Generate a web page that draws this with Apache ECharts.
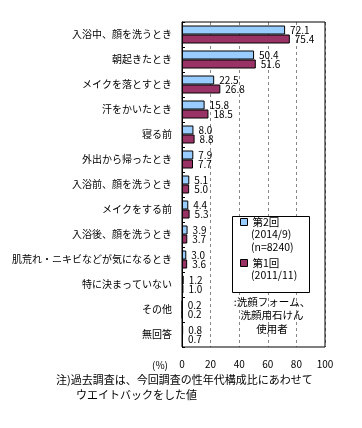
<!DOCTYPE html>
<html><head><meta charset="utf-8">
<script src="https://cdn.jsdelivr.net/npm/echarts@6/dist/echarts.min.js"></script>
<style>html,body{margin:0;padding:0;background:#fff}#c{width:362px;height:428px}</style>
</head><body><div id="c"></div>
<script>
var categories = ['入浴中、顔を洗うとき','朝起きたとき','メイクを落とすとき','汗をかいたとき','寝る前','外出から帰ったとき','入浴前、顔を洗うとき','メイクをする前','入浴後、顔を洗うとき','肌荒れ・ニキビなどが気になるとき','特に決まっていない','その他','無回答'];
var seriesNames = ['第2回','第1回'];
var round2 = [72.1,50.4,22.5,15.8,8.0,7.9,5.1,4.4,3.9,3.0,1.2,0.2,0.8];
var round1 = [75.4,51.6,26.8,18.5,8.8,7.7,5.0,5.3,3.7,3.6,1.0,0.2,0.7];
var legendSub2 = ['(2014/9)','(n=8240)'];
var legendSub1 = ['(2011/11)'];
var noteBox = [':洗顔フォーム、','洗顔用石けん','使用者'];
var footnote = ['注)過去調査は、今回調査の性年代構成比にあわせて','ウエイトバックをした値'];
var unitLabel = '(%)';

var FONT = '"Noto Sans CJK JP", sans-serif';
var chart = echarts.init(document.getElementById('c'));
function lbl(){return {show:true,position:'right',distance:5,color:'#000',fontSize:10,fontFamily:FONT,formatter:function(p){return p.value.toFixed(1);}};}
function leg(name, top){
  return {data:[name],left:240,top:top,padding:0,z:20,orient:'vertical',itemWidth:7,itemHeight:7,icon:'rect',
    itemStyle:{borderColor:'#000',borderWidth:1},textStyle:{fontSize:10.5,fontFamily:FONT,color:'#000',height:14,lineHeight:14}};
}
chart.setOption({
  animation:false,
  backgroundColor:'#fff',
  grid:{left:182,right:37,top:22,bottom:81,show:true,borderColor:'#000',borderWidth:1,backgroundColor:'transparent',z:5},
  xAxis:{type:'value',min:0,max:100,interval:20,
    axisLine:{show:false},axisTick:{show:false},
    axisLabel:{color:'#000',fontSize:10,fontFamily:FONT,margin:12},
    splitLine:{show:true,lineStyle:{color:'#888',type:[3,3],width:1}}},
  yAxis:{type:'category',data:categories,inverse:true,
    axisLine:{show:true,lineStyle:{color:'#000',width:1}},
    axisTick:{show:true,inside:true,length:3,lineStyle:{color:'#000'}},
    axisLabel:{color:'#000',fontSize:10,fontFamily:FONT,margin:10}},
  legend:[leg(seriesNames[0],215), leg(seriesNames[1],256)],
  graphic:[
    {type:'rect',shape:{x:232.5,y:216.5,width:77,height:76},style:{fill:'#fff',stroke:'#000',lineWidth:1},z:10,silent:true},
    {type:'text',left:251,top:228,style:{text:legendSub2.join('\n'),fontSize:10.5,lineHeight:13,fontFamily:FONT,fill:'#000'},z:11},
    {type:'text',left:251,top:269,style:{text:legendSub1.join('\n'),fontSize:10.5,lineHeight:13,fontFamily:FONT,fill:'#000'},z:11},
    {type:'text',x:272,y:295,style:{text:noteBox.join('\n'),fontSize:10.5,lineHeight:13.5,fontFamily:FONT,fill:'#000',align:'center'},z:11},
    {type:'text',x:168,y:365,style:{text:unitLabel,fontSize:10,fontFamily:FONT,fill:'#000',align:'right',verticalAlign:'middle'}},
    {type:'text',left:56,top:374,style:{text:footnote[0],fontSize:11,fontFamily:FONT,fill:'#000'}},
    {type:'text',left:76,top:389,style:{text:footnote[1],fontSize:11,fontFamily:FONT,fill:'#000'}}
  ],
  series:[
    {name:seriesNames[0],type:'bar',data:round2,barGap:'0%',barCategoryGap:'28%',
      itemStyle:{color:'#99ccff',borderColor:'#000',borderWidth:1},label:lbl(),z:3},
    {name:seriesNames[1],type:'bar',data:round1,barGap:'0%',barCategoryGap:'28%',
      itemStyle:{color:'#993366',borderColor:'#000',borderWidth:1},label:lbl(),z:3}
  ]
});
</script></body></html>
